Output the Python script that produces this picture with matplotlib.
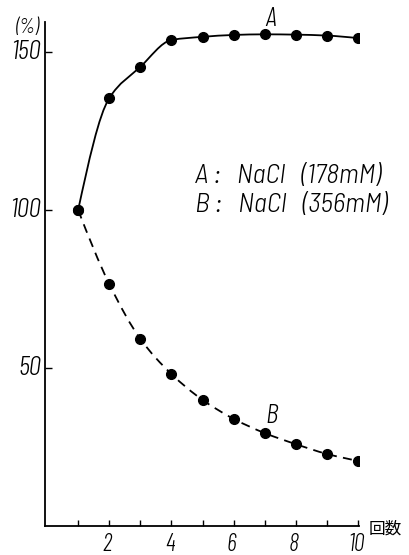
import matplotlib
matplotlib.use("Agg")
import matplotlib.pyplot as plt
from matplotlib.path import Path
from matplotlib.patches import PathPatch
import numpy as np

# Number of repetitions
trials = [1, 2, 3, 4, 5, 6, 7, 8, 9, 10]
# Relative value (%) for each salt concentration
series_a = [100, 135.4, 145.3, 153.8, 154.8, 155.4, 155.6, 155.5, 155.2, 154.4]
series_b = [100, 76.6, 59.2, 48.1, 39.9, 33.9, 29.4, 25.9, 22.8, 20.6]
legend_lines = ["A :   NaCl   (178mM)", "B :   NaCl   (356mM)"]
x_ticklabels = ["2", "4", "6", "8", "10"]
y_ticks = [50, 100, 150]

font = dict(family=["Barlow Condensed", "DejaVu Sans"], style="italic", weight=300)
font_wide = dict(family=["Barlow Semi Condensed", "Barlow Condensed", "DejaVu Sans"],
                 style="italic", weight=300)


def smooth_path(xs, ys):
    """Monotone (Fritsch-Carlson) cubic through the points as Bezier segments."""
    x = np.asarray(xs, float)
    y = np.asarray(ys, float)
    h = np.diff(x)
    d = np.diff(y) / h
    m = np.zeros_like(y)
    for i in range(1, len(y) - 1):
        if d[i - 1] * d[i] > 0:
            w1 = 2 * h[i] + h[i - 1]
            w2 = h[i] + 2 * h[i - 1]
            m[i] = (w1 + w2) / (w1 / d[i - 1] + w2 / d[i])
    m[0] = (3 * d[0] - m[1]) / 2
    m[-1] = (3 * d[-1] - m[-2]) / 2
    verts = [(x[0], y[0])]
    codes = [Path.MOVETO]
    for i in range(len(x) - 1):
        verts += [(x[i] + h[i] / 3, y[i] + m[i] * h[i] / 3),
                  (x[i + 1] - h[i] / 3, y[i + 1] - m[i + 1] * h[i] / 3),
                  (x[i + 1], y[i + 1])]
        codes += [Path.CURVE4] * 3
    return Path(verts, codes)


fig = plt.figure(figsize=(4.10, 5.55), dpi=100)
ax = fig.add_axes([45 / 410, 1 - 526 / 555, 314 / 410, 504 / 555])

ax.add_patch(PathPatch(smooth_path(trials, series_a), fill=False,
                       edgecolor="black", lw=1.3, transform=ax.transData))
ax.add_patch(PathPatch(smooth_path(trials, series_b), fill=False,
                       edgecolor="black", lw=1.3, linestyle=(0, (5, 3.5)),
                       transform=ax.transData))
ax.plot(trials, series_a, "o", color="black", ms=7)
ax.plot(trials, series_b, "o", color="black", ms=7)

ax.set_xlim(-0.065, 10.03)
ax.set_ylim(0, 159.5)

for s in ["top", "right"]:
    ax.spines[s].set_visible(False)
for s in ["left", "bottom"]:
    ax.spines[s].set_linewidth(1.3)

ax.set_xticks(trials)
ax.set_xticklabels([])
ax.tick_params(axis="x", direction="in", length=4, width=1.0)
ax.set_yticks(y_ticks)
ax.set_yticklabels([])
ax.tick_params(axis="y", direction="in", length=5, width=1.0)

for lbl, xv in zip(x_ticklabels, [2, 4, 6, 8, 10]):
    ax.text(xv - 0.06, -5.8, lbl, ha="center", va="center", fontsize=17.5, **font)
for yv in y_ticks:
    ax.text(-0.2, yv, str(yv), ha="right", va="center", fontsize=20, **font)
ax.text(-0.22, 156.0, "(%)", ha="right", va="baseline", fontsize=15, **font)

ax.text(10.35, -0.9, "回数", ha="left", va="center", fontsize=12,
        family=["Noto Sans CJK JP", "DejaVu Sans"])

ax.text(7.17, 158.2, "A", ha="center", va="baseline", fontsize=20, **font)
ax.text(7.22, 32.6, "B", ha="center", va="baseline", fontsize=20, **font)

ax.text(4.76, 108.5, legend_lines[0], ha="left", va="baseline", fontsize=20, **font_wide)
ax.text(4.76, 99.4, legend_lines[1], ha="left", va="baseline", fontsize=20, **font_wide)

for t in ax.texts:
    t.set_clip_on(False)

fig.savefig("out.png", dpi=100)
